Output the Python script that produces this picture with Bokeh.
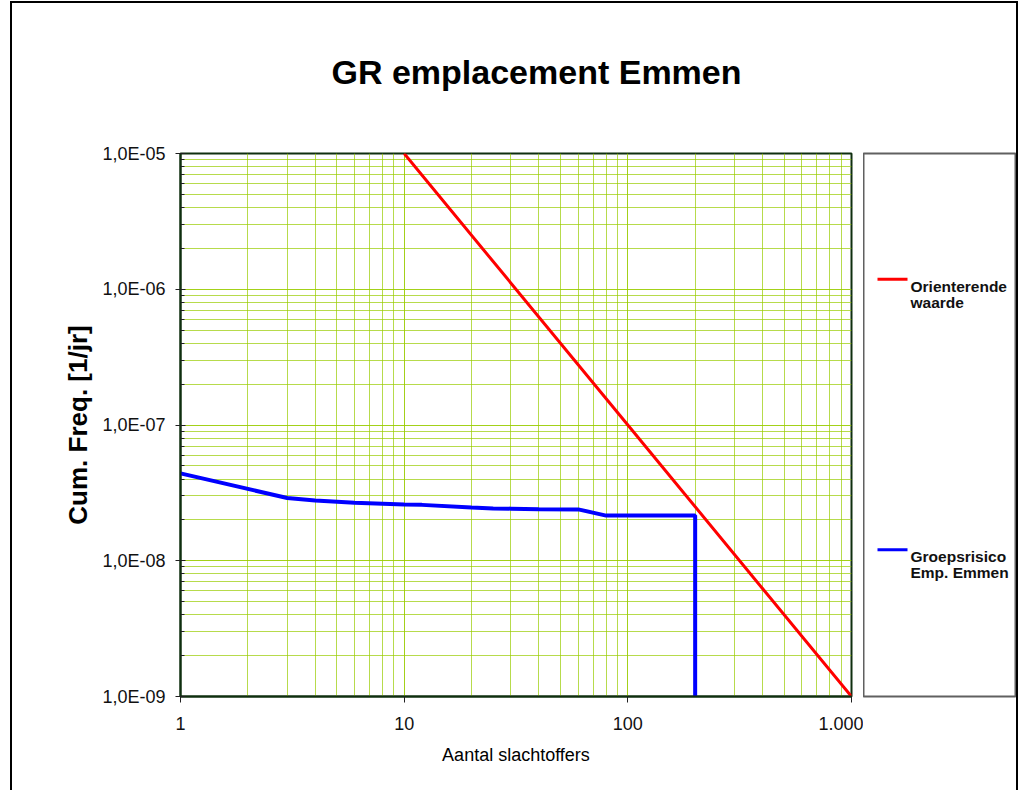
from bokeh.plotting import figure
from bokeh.layouts import row, column
from bokeh.models import FixedTicker, CustomJSTickFormatter, Range1d
from bokeh.core.properties import value
from bokeh.embed import file_html
from bokeh.resources import INLINE

# ---------------- data ----------------
title_text = "GR emplacement Emmen"
x_label = "Aantal slachtoffers"
y_label = "Cum. Freq. [1/jr]"

x_ticks = [1, 10, 100, 1000]
x_tick_labels = ["1", "10", "100", "1.000"]
y_ticks = [1e-9, 1e-8, 1e-7, 1e-6, 1e-5]
y_tick_labels = ["1,0E-09", "1,0E-08", "1,0E-07", "1,0E-06", "1,0E-05"]

# Orienterende waarde (F = 1e-3 / N^2)
ow_n = [10, 100, 1000]
ow_f = [1e-5, 1e-7, 1e-9]

# Groepsrisico Emp. Emmen
gr_n = [1, 3, 4, 6, 10, 12, 20, 25, 30, 40, 60, 80, 200, 200]
gr_f = [4.4e-8, 2.9e-8, 2.78e-8, 2.68e-8, 2.6e-8, 2.58e-8, 2.47e-8, 2.43e-8,
        2.42e-8, 2.4e-8, 2.39e-8, 2.15e-8, 2.15e-8, 1e-9]

legend_labels = [["Orienterende", "waarde"], ["Groepsrisico", "Emp. Emmen"]]
legend_colors = ["#ff0000", "#0000ff"]

FONT = "Liberation Sans"
GRID = "#99cc00"
FRAME = "#0f2f0f"
TOP_H = 140

# ---------------- title strip ----------------
tf = figure(width=1004, height=TOP_H, x_range=Range1d(0, 1004), y_range=Range1d(TOP_H, 0),
            x_axis_type=None, y_axis_type=None, output_backend="svg",
            toolbar_location=None, min_border=0)
tf.grid.visible = False
tf.outline_line_color = None
tf.background_fill_color = "white"
tf.border_fill_color = "white"
tf.text([319], [68], text=[title_text], text_font=value(FONT), text_font_size="34px",
        text_font_style="bold", text_color="#000000", text_baseline="middle",
        text_align="left")

# ---------------- main chart ----------------
p = figure(width=851, height=787 - TOP_H, x_axis_type="log", y_axis_type="log",
           x_range=Range1d(1, 1000), y_range=Range1d(1e-9, 1e-5),
           output_backend="svg", toolbar_location=None,
           min_border_left=168, min_border_right=12,
           min_border_top=150 - TOP_H, min_border_bottom=94)
p.background_fill_color = "white"
p.border_fill_color = "white"
p.outline_line_color = FRAME
p.outline_line_width = 2

x_minor = [m * 10 ** k for k in range(3) for m in range(2, 10)]
y_minor = [m * 10.0 ** k for k in range(-9, -5) for m in range(2, 10)]
xt = FixedTicker(ticks=x_ticks, minor_ticks=x_minor)
yt = FixedTicker(ticks=y_ticks, minor_ticks=y_minor)

fmt_code = """
const i = vals.findIndex(v => Math.abs(Math.log10(v) - Math.log10(tick)) < 1e-6);
return i >= 0 ? labs[i] : "";
"""
p.xaxis.ticker = xt
p.yaxis.ticker = yt
p.xgrid.ticker = xt
p.ygrid.ticker = yt
p.xaxis.formatter = CustomJSTickFormatter(args=dict(vals=x_ticks, labs=x_tick_labels), code=fmt_code)
p.yaxis.formatter = CustomJSTickFormatter(args=dict(vals=y_ticks, labs=y_tick_labels), code=fmt_code)

for ax in (p.xaxis, p.yaxis):
    ax.axis_line_color = FRAME
    ax.axis_line_width = 2
    ax.major_tick_line_color = "#202020"
    ax.minor_tick_line_color = "#202020"
    ax.major_label_text_font = FONT
    ax.major_label_text_font_size = "18px"
    ax.major_label_text_color = "#111111"
    ax.axis_label_text_font = FONT
    ax.axis_label_text_color = "#000000"

p.xaxis.major_tick_in = 0
p.xaxis.major_tick_out = 6
p.xaxis.minor_tick_in = 0
p.xaxis.minor_tick_out = 0
p.xaxis.major_label_standoff = 14
p.xaxis.axis_label = x_label
p.xaxis.axis_label_text_font_size = "18px"
p.xaxis.axis_label_text_font_style = "normal"
p.xaxis.axis_label_standoff = 12

p.yaxis.major_tick_in = 5
p.yaxis.major_tick_out = 5
p.yaxis.minor_tick_in = 4
p.yaxis.minor_tick_out = 0
p.yaxis.major_label_standoff = 10
p.yaxis.axis_label = y_label
p.yaxis.axis_label_text_font_size = "26px"
p.yaxis.axis_label_text_font_style = "bold"
p.yaxis.axis_label_standoff = 6

for g in (p.xgrid, p.ygrid):
    g.grid_line_color = GRID
    g.grid_line_alpha = 0.9
    g.minor_grid_line_color = GRID
    g.minor_grid_line_alpha = 0.7

p.line(ow_n, ow_f, line_color=legend_colors[0], line_width=3)
p.line(gr_n, gr_f, line_color=legend_colors[1], line_width=4)

# ---------------- legend panel ----------------
lg = figure(width=153, height=787 - TOP_H, x_range=Range1d(0, 153), y_range=Range1d(544, 0),
            x_axis_type=None, y_axis_type=None, output_backend="svg",
            toolbar_location=None, min_border_left=0, min_border_right=0,
            min_border_top=149 - TOP_H, min_border_bottom=94)
lg.grid.visible = False
lg.outline_line_color = "#606060"
lg.outline_line_width = 2
lg.background_fill_color = "white"
lg.border_fill_color = "white"

item_y = [126, 397]
for lab, col, yy in zip(legend_labels, legend_colors, item_y):
    lg.line([14, 44], [yy, yy], line_color=col, line_width=3)
    lg.text([47, 47], [yy + 7, yy + 23], text=lab, text_font=value(FONT),
            text_font_size="15.5px", text_font_style="bold",
            text_baseline="alphabetic", text_align="left", text_color="#111111")

layout = column(tf, row(p, lg), margin=(1, 0, 0, 10),
                styles={"border-left": "2px solid #000000",
                        "border-right": "2px solid #000000",
                        "border-top": "2px solid #000000"})

open("out.html", "w").write(file_html(layout, INLINE))
